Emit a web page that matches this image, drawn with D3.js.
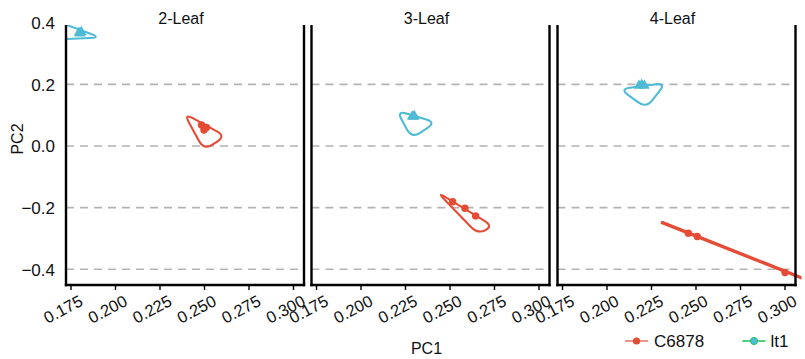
<!DOCTYPE html>
<html><head><meta charset="utf-8">
<script src="https://cdn.jsdelivr.net/npm/d3@7"></script>
<style>body{margin:0;background:#fff}svg{display:block}text{font-family:Arial,"Liberation Sans",sans-serif;fill:#111}</style>
</head><body><svg id="c" width="805" height="359"></svg>
<script>
const panels = ["2-Leaf", "3-Leaf", "4-Leaf"];
const xTicks = [0.175, 0.2, 0.225, 0.25, 0.275, 0.3];
const yTicks = [0.4, 0.2, 0.0, -0.2, -0.4];
const gridValues = [0.2, 0.0, -0.2, -0.4];
const seriesNames = ["C6878", "lt1"];

// sample points: [panelIndex, PC1, PC2]
const c6878Points = [
  [0, 0.2483, 0.068], [0, 0.2511, 0.060], [0, 0.2497, 0.052],
  [1, 0.2515, -0.181], [1, 0.2584, -0.202], [1, 0.2644, -0.227],
  [2, 0.2457, -0.283], [2, 0.2507, -0.294], [2, 0.3000, -0.411]
];
const lt1Points = [
  [0, 0.1801, 0.366], [0, 0.1808, 0.370], [0, 0.1795, 0.368],
  [1, 0.2294, 0.095], [1, 0.2300, 0.097], [1, 0.2288, 0.096],
  [2, 0.2180, 0.196], [2, 0.2195, 0.199], [2, 0.2210, 0.196]
];
// group outlines (hull corners): [PC1, PC2]
const c6878Hulls = [
  [[0.2385, 0.106], [0.2619, 0.032], [0.2497, -0.013]],
  [[0.2427, -0.149], [0.2742, -0.260], [0.2657, -0.286]],
  [[0.2311, -0.249], [0.3095, -0.4286]]
];
const lt1Hulls = [
  [[0.1666, 0.406], [0.1916, 0.352], [0.1666, 0.346]],
  [[0.2201, 0.1146], [0.2421, 0.077], [0.2285, 0.025]],
  [[0.2073, 0.185], [0.2331, 0.2045], [0.2219, 0.123]]
];

const colors = {C6878: "#E64B35", lt1: "#4DBBD5"};
const legendLine = {C6878: "#F07A6C", lt1: "#22C55E"};

const svg = d3.select("#c");
const yTop = 25, yBottom = 285;
const panelLeft = [66, 311.5, 557.5];
const panelW = 238;

const y = d3.scaleLinear().domain([-0.4513, 0.3929]).range([yBottom, yTop]);

function roundedPath(pts, r) {
  const n = pts.length;
  let d = "";
  for (let i = 0; i < n; i++) {
    const v = pts[i], p = pts[(i - 1 + n) % n], q = pts[(i + 1) % n];
    const lp = Math.hypot(p[0] - v[0], p[1] - v[1]);
    const lq = Math.hypot(q[0] - v[0], q[1] - v[1]);
    const tp = Math.min(r / lp, 0.5), tq = Math.min(r / lq, 0.5);
    const a = [v[0] + (p[0] - v[0]) * tp, v[1] + (p[1] - v[1]) * tp];
    const b = [v[0] + (q[0] - v[0]) * tq, v[1] + (q[1] - v[1]) * tq];
    d += (i === 0 ? "M" : "L") + a[0] + "," + a[1] + "Q" + v[0] + "," + v[1] + " " + b[0] + "," + b[1];
  }
  return d + "Z";
}

panels.forEach((name, i) => {
  const L = panelLeft[i], R = L + panelW;
  const x = d3.scaleLinear().domain([0.175 - 5 / 1780, 0.175 - 5 / 1780 + panelW / 1780]).range([L, R]);
  const g = svg.append("g");

  const clipId = "clip" + i;
  svg.append("clipPath").attr("id", clipId).append("rect")
    .attr("x", L).attr("y", yTop).attr("width", panelW + 6).attr("height", yBottom - yTop);

  g.selectAll(".grid").data(gridValues).enter().append("line")
    .attr("x1", L).attr("x2", R).attr("y1", d => y(d)).attr("y2", d => y(d))
    .attr("stroke", "#b3b3b3").attr("stroke-width", 1.6).attr("stroke-dasharray", "8,6");

  const marks = g.append("g").attr("clip-path", "url(#" + clipId + ")");

  [["C6878", c6878Hulls], ["lt1", lt1Hulls]].forEach(([s, hulls]) => {
    const h = hulls[i].map(p => [x(p[0]), y(p[1])]);
    if (h.length === 2) {
      marks.append("path").attr("d", d3.line()(h)).attr("fill", "none")
        .attr("stroke", colors[s]).attr("stroke-width", 3.4).attr("stroke-linecap", "round");
    } else {
      marks.append("path").attr("d", roundedPath(h, 10)).attr("fill", "none")
        .attr("stroke", colors[s]).attr("stroke-width", 2.1).attr("stroke-linejoin", "round");
    }
  });

  marks.selectAll(".pr").data(c6878Points.filter(p => p[0] === i)).enter().append("circle")
    .attr("cx", d => x(d[1])).attr("cy", d => y(d[2])).attr("r", 3.7).attr("fill", colors.C6878);
  marks.selectAll(".pb").data(lt1Points.filter(p => p[0] === i)).enter().append("path")
    .attr("transform", d => `translate(${x(d[1])},${y(d[2])})`)
    .attr("d", d3.symbol(d3.symbolTriangle, 50)).attr("fill", colors.lt1);

  g.append("line").attr("x1", L).attr("x2", L).attr("y1", yTop).attr("y2", yBottom + 1.2).attr("stroke", "#000").attr("stroke-width", 2.4);
  g.append("line").attr("x1", R).attr("x2", R).attr("y1", yTop).attr("y2", yBottom + 1.2).attr("stroke", "#000").attr("stroke-width", 2.4);
  g.append("line").attr("x1", L - 1.2).attr("x2", R + 1.2).attr("y1", yBottom).attr("y2", yBottom).attr("stroke", "#000").attr("stroke-width", 2.4);

  g.selectAll(".xt").data(xTicks).enter().append("line")
    .attr("x1", d => x(d)).attr("x2", d => x(d)).attr("y1", yBottom).attr("y2", yBottom + 5)
    .attr("stroke", "#000").attr("stroke-width", 1.4);
  g.selectAll(".xl").data(xTicks).enter().append("text")
    .attr("transform", d => `translate(${x(d) - 8},${309}) rotate(-28)`)
    .attr("text-anchor", "middle").attr("dominant-baseline", "central")
    .style("font-size", "16.5px").text(d => d3.format(".3f")(d));

  svg.append("text").attr("x", (L + R) / 2 - 4).attr("y", 24).attr("text-anchor", "middle")
    .style("font-size", "16px").text(name);

  if (i === 0) {
    g.selectAll(".yl").data(yTicks).enter().append("text")
      .attr("x", 55).attr("y", d => y(d)).attr("dy", "0.38em").attr("text-anchor", "end")
      .style("font-size", "17px").text(d => d3.format(".1f")(d));
  }
});

svg.append("text").attr("x", (panelLeft[1] + panelLeft[1] + panelW) / 2 - 4).attr("y", 354)
  .attr("text-anchor", "middle").style("font-size", "16px").text("PC1");
svg.append("text").attr("transform", "translate(23,139) rotate(-90)")
  .attr("text-anchor", "middle").style("font-size", "16px").text("PC2");

const leg = svg.append("g").attr("transform", "translate(625,341)");
const legX = [0, 117.5];
seriesNames.forEach((s, k) => {
  const gg = leg.append("g").attr("transform", `translate(${legX[k]},0)`);
  gg.append("line").attr("x1", 0).attr("x2", 23).attr("y1", 0).attr("y2", 0)
    .attr("stroke", legendLine[s]).attr("stroke-width", 1.6);
  gg.append("circle").attr("cx", 11.5).attr("cy", 0).attr("r", 3.6).attr("fill", colors[s])
    .attr("stroke", s === "lt1" ? legendLine[s] : "none").attr("stroke-width", 1);
  gg.append("text").attr("x", s === "lt1" ? 28 : 29).attr("y", 0).attr("dy", "0.36em")
    .style("font-size", "17px").text(s);
});
</script></body></html>
